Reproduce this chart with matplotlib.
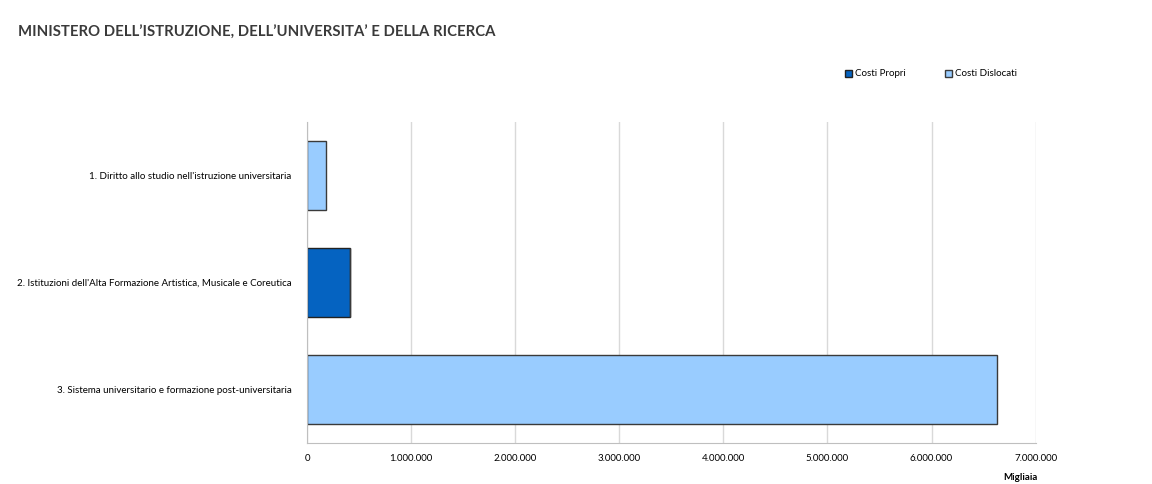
import matplotlib.pyplot as plt
from matplotlib.ticker import FuncFormatter

plt.rcParams['font.family'] = ['Lato', 'DejaVu Sans']

categorie = [
    "1. Diritto allo studio nell'istruzione universitaria",
    "2. Istituzioni dell'Alta Formazione Artistica, Musicale e Coreutica",
    "3. Sistema universitario e formazione post-universitaria",
]
costi_propri = [0, 413000, 0]
costi_dislocati = [182000, 0, 6628000]

fig = plt.figure(figsize=(11.52, 4.84), dpi=100)
ax = fig.add_axes([0.2665, 0.085, 0.6325, 0.663])

y = range(len(categorie))
ax.barh(y, costi_propri, height=0.64, color="#0563C1", edgecolor="#222222",
        linewidth=1, label="Costi Propri")
ax.barh(y, costi_dislocati, left=costi_propri, height=0.64, color="#99CCFF",
        edgecolor="#3a3a3a", linewidth=1, label="Costi Dislocati")

ax.set_yticks(list(y))
ax.set_yticklabels(categorie, fontsize=7)
ax.set_ylim(2.5, -0.5)
ax.set_xlim(0, 7000000)
ax.set_xticks(range(0, 7000001, 1000000))
ax.xaxis.set_major_formatter(FuncFormatter(lambda v, p: f"{int(v):,}".replace(",", ".")))
ax.tick_params(axis="x", labelsize=7, length=0, pad=8)
ax.tick_params(axis="y", length=0, pad=11)
ax.grid(axis="x", color="#d9d9d9", linewidth=1)
ax.set_axisbelow(True)
for s in ["top", "right"]:
    ax.spines[s].set_visible(False)
ax.spines["left"].set_color("#bfbfbf")
ax.spines["bottom"].set_color("#bfbfbf")

fig.text(1020 / 1152, 1 - 478 / 484, "Migliaia", fontsize=7, fontweight="bold",
         ha="center", va="center")

fig.legend(loc="center", bbox_to_anchor=(931 / 1152, 1 - 74 / 484), ncol=2,
           frameon=False, fontsize=7, handlelength=0.7, handleheight=0.7,
           handletextpad=0.3, columnspacing=4)

fig.text(18 / 1152, 1 - 33 / 484, "MINISTERO DELL\u2019ISTRUZIONE, DELL\u2019UNIVERSITA\u2019 E DELLA RICERCA",
         fontsize=10.7, fontweight="bold", color="#3a3a3a",
         ha="left", va="center")

fig.savefig("out.png", dpi=100)
